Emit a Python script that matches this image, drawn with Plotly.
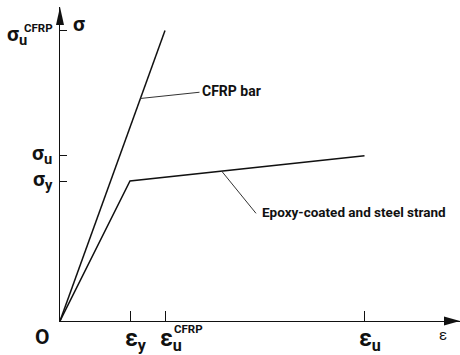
import numpy as np
import plotly.graph_objects as go

# Schematic stress-strain relations (normalised units)
eps_y = 1.0        # yield strain of the steel strand
eps_u_cfrp = 1.5   # ultimate strain of the CFRP bar
eps_u = 4.35       # ultimate strain of the steel strand
sig_y = 1.0        # yield stress of the steel strand
sig_u = 1.18       # ultimate stress of the steel strand
sig_u_cfrp = 2.075 # ultimate stress of the CFRP bar

cfrp_strain = [0.0, eps_u_cfrp]
cfrp_stress = [0.0, sig_u_cfrp]
steel_strain = [0.0, eps_y, eps_u]
steel_stress = [0.0, sig_y, sig_u]

x_ticks = [eps_y, eps_u_cfrp, eps_u]
y_ticks = [sig_y, sig_u, sig_u_cfrp]

W, H = 460, 355
ML, MB, MT, MR = 60, 34, 7, 0
x_max = 5.7143
y_max = 2.2429

FONT = "Roboto, Liberation Sans, sans-serif"
INK = "#111111"

fig = go.Figure()

fig.add_trace(go.Scatter(x=cfrp_strain, y=cfrp_stress, mode="lines",
                         line=dict(color=INK, width=1.5), showlegend=False,
                         hoverinfo="skip"))
fig.add_trace(go.Scatter(x=steel_strain, y=steel_stress, mode="lines",
                         line=dict(color=INK, width=1.5), showlegend=False,
                         hoverinfo="skip"))

# leader lines from the curves to their labels
cfrp_lbl = (2.0, 1.645)
steel_lbl = (2.857, 0.781)
lx1 = 1.149
ly1 = np.interp(lx1, cfrp_strain, cfrp_stress)
lx2 = 2.31
ly2 = np.interp(lx2, steel_strain, steel_stress)
fig.add_trace(go.Scatter(x=[lx1, cfrp_lbl[0] - 0.007], y=[ly1, cfrp_lbl[1] - 0.011],
                         mode="lines", line=dict(color="#333333", width=1),
                         showlegend=False, hoverinfo="skip"))
fig.add_trace(go.Scatter(x=[lx2, steel_lbl[0] - 0.057], y=[ly2, steel_lbl[1] - 0.012],
                         mode="lines", line=dict(color="#333333", width=1),
                         showlegend=False, hoverinfo="skip"))

ann = []
lbl_font = dict(family=FONT, size=14, color=INK, weight="bold")
ann.append(dict(x=cfrp_lbl[0], y=cfrp_lbl[1], xref="x", yref="y", text="CFRP bar",
                xanchor="left", yanchor="middle", showarrow=False, font=lbl_font))
ann.append(dict(x=steel_lbl[0], y=steel_lbl[1], xref="x", yref="y",
                text="Epoxy-coated and steel strand",
                xanchor="left", yanchor="middle", showarrow=False,
                font=dict(lbl_font, size=13.5)))

big = dict(family=FONT, size=21, color=INK, weight="bold")
eps_font = dict(family=FONT, size=23, color=INK, weight="bold")
small = dict(family=FONT, size=11.5, color=INK, weight="bold")

# stress labels on the vertical axis
ann.append(dict(x=0, y=sig_y, xref="paper", yref="y", text="σ<sub>y</sub>",
                xanchor="right", yanchor="middle", xshift=-5, yshift=1,
                showarrow=False, font=big))
ann.append(dict(x=0, y=sig_u, xref="paper", yref="y", text="σ<sub>u</sub>",
                xanchor="right", yanchor="middle", xshift=-6, yshift=1,
                showarrow=False, font=big))
ann.append(dict(x=0, y=sig_u_cfrp, xref="paper", yref="y", text="σ<sub>u</sub>",
                xanchor="right", yanchor="middle", xshift=-31, yshift=-5,
                showarrow=False, font=big))
ann.append(dict(x=0, y=sig_u_cfrp, xref="paper", yref="y", text="CFRP",
                xanchor="left", yanchor="middle", xshift=-38, yshift=3,
                showarrow=False, font=small))
ann.append(dict(x=0, y=1, xref="paper", yref="paper", text="σ",
                xanchor="center", yanchor="middle", xshift=19, yshift=-17,
                showarrow=False, font=big))

# strain labels under the horizontal axis
ann.append(dict(x=0, y=0, xref="x", yref="paper", text="O",
                xanchor="center", yanchor="middle", xshift=-18, yshift=-16,
                showarrow=False, font=big))
ann.append(dict(x=eps_y, y=0, xref="x", yref="paper", text="ε<sub>y</sub>",
                xanchor="left", yanchor="middle", xshift=-7, yshift=-19,
                showarrow=False, font=eps_font))
ann.append(dict(x=eps_u_cfrp, y=0, xref="x", yref="paper", text="ε<sub>u</sub>",
                xanchor="left", yanchor="middle", xshift=-7, yshift=-19,
                showarrow=False, font=eps_font))
ann.append(dict(x=eps_u_cfrp, y=0, xref="x", yref="paper", text="CFRP",
                xanchor="left", yanchor="middle", xshift=7, yshift=-8,
                showarrow=False, font=small))
ann.append(dict(x=eps_u, y=0, xref="x", yref="paper", text="ε<sub>u</sub>",
                xanchor="left", yanchor="middle", xshift=-8, yshift=-19,
                showarrow=False, font=eps_font))
ann.append(dict(x=1, y=0, xref="paper", yref="paper", text="ε",
                xanchor="center", yanchor="middle", xshift=-17, yshift=-14,
                showarrow=False, font=dict(family=FONT, size=15, color=INK)))

# arrowheads at the ends of both axes
shapes = [
    dict(type="path", xref="paper", yref="paper", xsizemode="pixel", ysizemode="pixel",
         xanchor=0, yanchor=1, path="M0,0 L-4,-18 L4,-18 Z",
         fillcolor=INK, line=dict(width=0)),
    dict(type="path", xref="paper", yref="paper", xsizemode="pixel", ysizemode="pixel",
         xanchor=1, yanchor=0, path="M0,0 L-16,4.5 L-16,-4.5 Z",
         fillcolor=INK, line=dict(width=0)),
]

axis_common = dict(showgrid=False, zeroline=False, showline=True, linecolor=INK,
                   linewidth=1.4, ticks="inside", tickcolor=INK, tickwidth=1.2,
                   showticklabels=False, fixedrange=True)

fig.update_layout(
    width=W, height=H,
    margin=dict(l=ML, r=MR, t=MT, b=MB, pad=0),
    paper_bgcolor="white", plot_bgcolor="white",
    xaxis=dict(range=[0, x_max], tickvals=x_ticks, ticklen=10, **axis_common),
    yaxis=dict(range=[0, y_max], tickvals=y_ticks, ticklen=7, **axis_common),
    annotations=ann, shapes=shapes,
)

fig.write_html("out.html")
